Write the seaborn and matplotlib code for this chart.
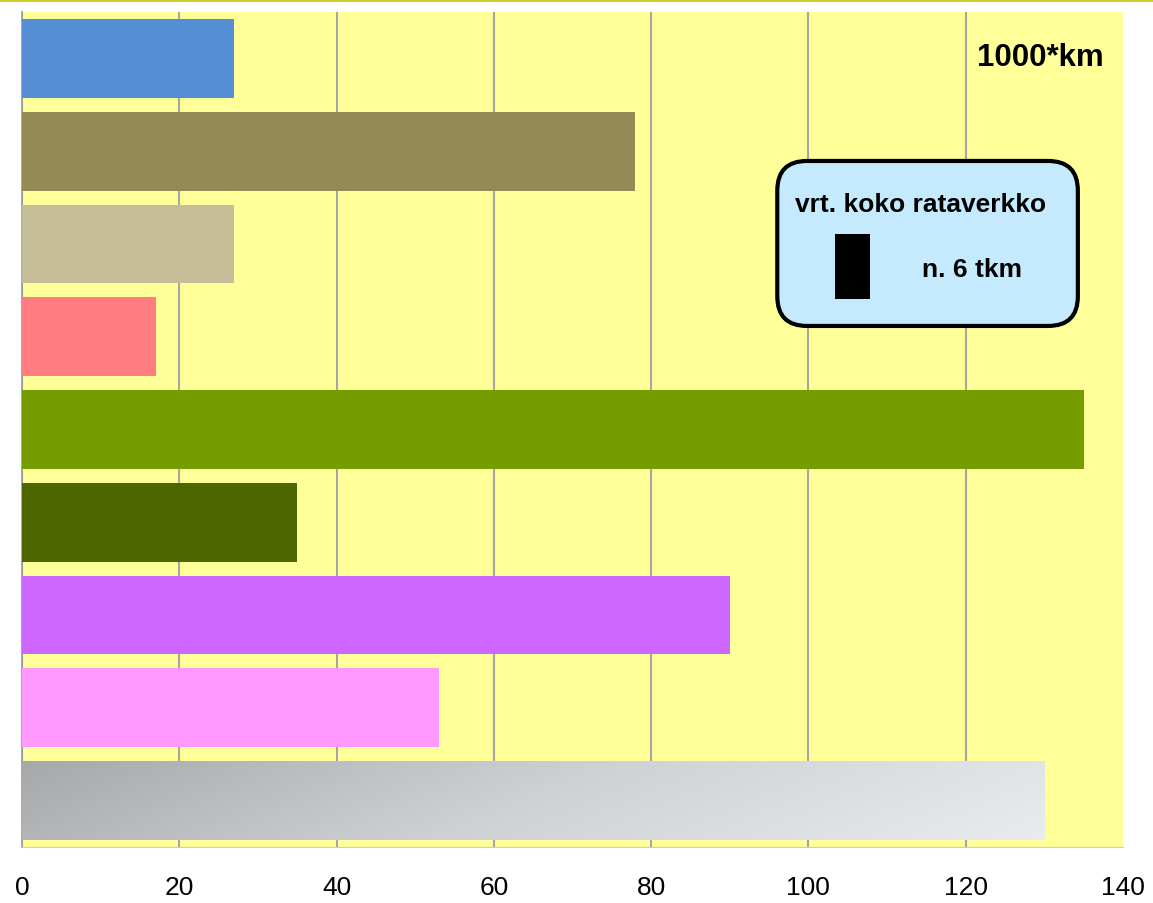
import numpy as np
import pandas as pd
import matplotlib
matplotlib.use("Agg")
import matplotlib.pyplot as plt
from matplotlib.patches import FancyBboxPatch, Rectangle
from matplotlib.lines import Line2D
from matplotlib.colors import LinearSegmentedColormap
import seaborn as sns

# Data (1000*km)
categories = ["A", "B", "C", "D", "E", "F", "G", "H", "I"]
values = [27, 78, 27, 17, 135, 35, 90, 53, 130]
colors = ["#558ed5", "#948a54", "#c4bd97", "#ff7c80", "#759d00",
          "#4d6600", "#cc66ff", "#ff99ff", "#c8cacd"]
x_ticks = [0, 20, 40, 60, 80, 100, 120, 140]

unit_label = "1000*km"
box_title = "vrt. koko rataverkko"
box_note = "n. 6 tkm"

df = pd.DataFrame({"cat": categories, "val": values})

sns.set_style("white")
plt.rcParams["font.family"] = ["Liberation Sans", "DejaVu Sans"]
plt.rcParams["text.color"] = "black"
plt.rcParams["xtick.color"] = "black"

fig = plt.figure(figsize=(11.53, 9.04), dpi=100)
ax = fig.add_axes([22 / 1153, 1 - 848 / 904, 1101 / 1153, 835 / 904])
ax.set_facecolor("#ffff99")

sns.barplot(
    data=df,
    x="val",
    y="cat",
    hue="cat",
    palette=colors,
    legend=False,
    width=0.85,
    saturation=1,
    linewidth=0,
    ax=ax,
    zorder=3,
)

# gradient fill on the last bar
last = ax.patches[len(categories) - 1]
bx, by = last.get_x(), last.get_y()
bw, bh = last.get_width(), last.get_height()
grad_cmap = LinearSegmentedColormap.from_list("g", ["#a7a8aa", "#cfd2d5", "#e9ecef"])
gx = np.linspace(0, 1, 256)
gy = np.linspace(0, 1, 32)
G = gx[None, :] * 0.85 + gy[:, None] * 0.15
img = ax.imshow(G, cmap=grad_cmap, extent=[bx, bx + bw, by + bh, by],
                aspect="auto", zorder=4, interpolation="bilinear")
img.set_clip_path(last)
ax.set_ylim(len(categories) - 0.5, -0.5)

ax.set_xlim(0, 140)
ax.set_xticks(x_ticks)
ax.set_xticklabels([str(t) for t in x_ticks], fontsize=19)
ax.set_yticks([])
ax.set_xlabel("")
ax.set_ylabel("")
ax.grid(axis="x", color="#a6a6a6", linewidth=1.5, zorder=1)
ax.get_xgridlines()[-1].set_visible(False)
ax.set_axisbelow(True)
ax.tick_params(axis="x", direction="out", length=7, width=1, color="#bbbbbb", pad=13)

for s in ["top", "right"]:
    ax.spines[s].set_visible(False)
ax.spines["left"].set_color("#999999")
ax.spines["left"].set_linewidth(1.2)
ax.spines["bottom"].set_color("#cccccc")
ax.spines["bottom"].set_linewidth(0.8)

# unit label
ax.text(0.925, 0.946, unit_label, transform=ax.transAxes, ha="center", va="center",
        fontsize=22.5, fontweight="bold", zorder=6)

# comparison box
box = FancyBboxPatch((0.686, 0.624), 0.959 - 0.686, 0.8216 - 0.624,
                     boxstyle="round,pad=0,rounding_size=0.027",
                     mutation_aspect=1101 / 835,
                     transform=ax.transAxes, facecolor="#c5eafd",
                     edgecolor="black", linewidth=3, zorder=6)
ax.add_patch(box)
ax.add_patch(Rectangle((0.7384, 0.656), 0.770 - 0.7384, 0.734 - 0.656,
                       transform=ax.transAxes, facecolor="black",
                       edgecolor="none", zorder=7))
ax.text(0.8165, 0.770, box_title, transform=ax.transAxes, ha="center", va="center",
        fontsize=19, fontweight="bold", zorder=7)
ax.text(0.8624, 0.692, box_note, transform=ax.transAxes, ha="center", va="center",
        fontsize=19, fontweight="bold", zorder=7)

# thin rule along the top edge
fig.add_artist(Line2D([0, 1], [0.999, 0.999], transform=fig.transFigure,
                      color="#cccc22", linewidth=2))

fig.savefig("out.png", dpi=100)
plt.close(fig)
